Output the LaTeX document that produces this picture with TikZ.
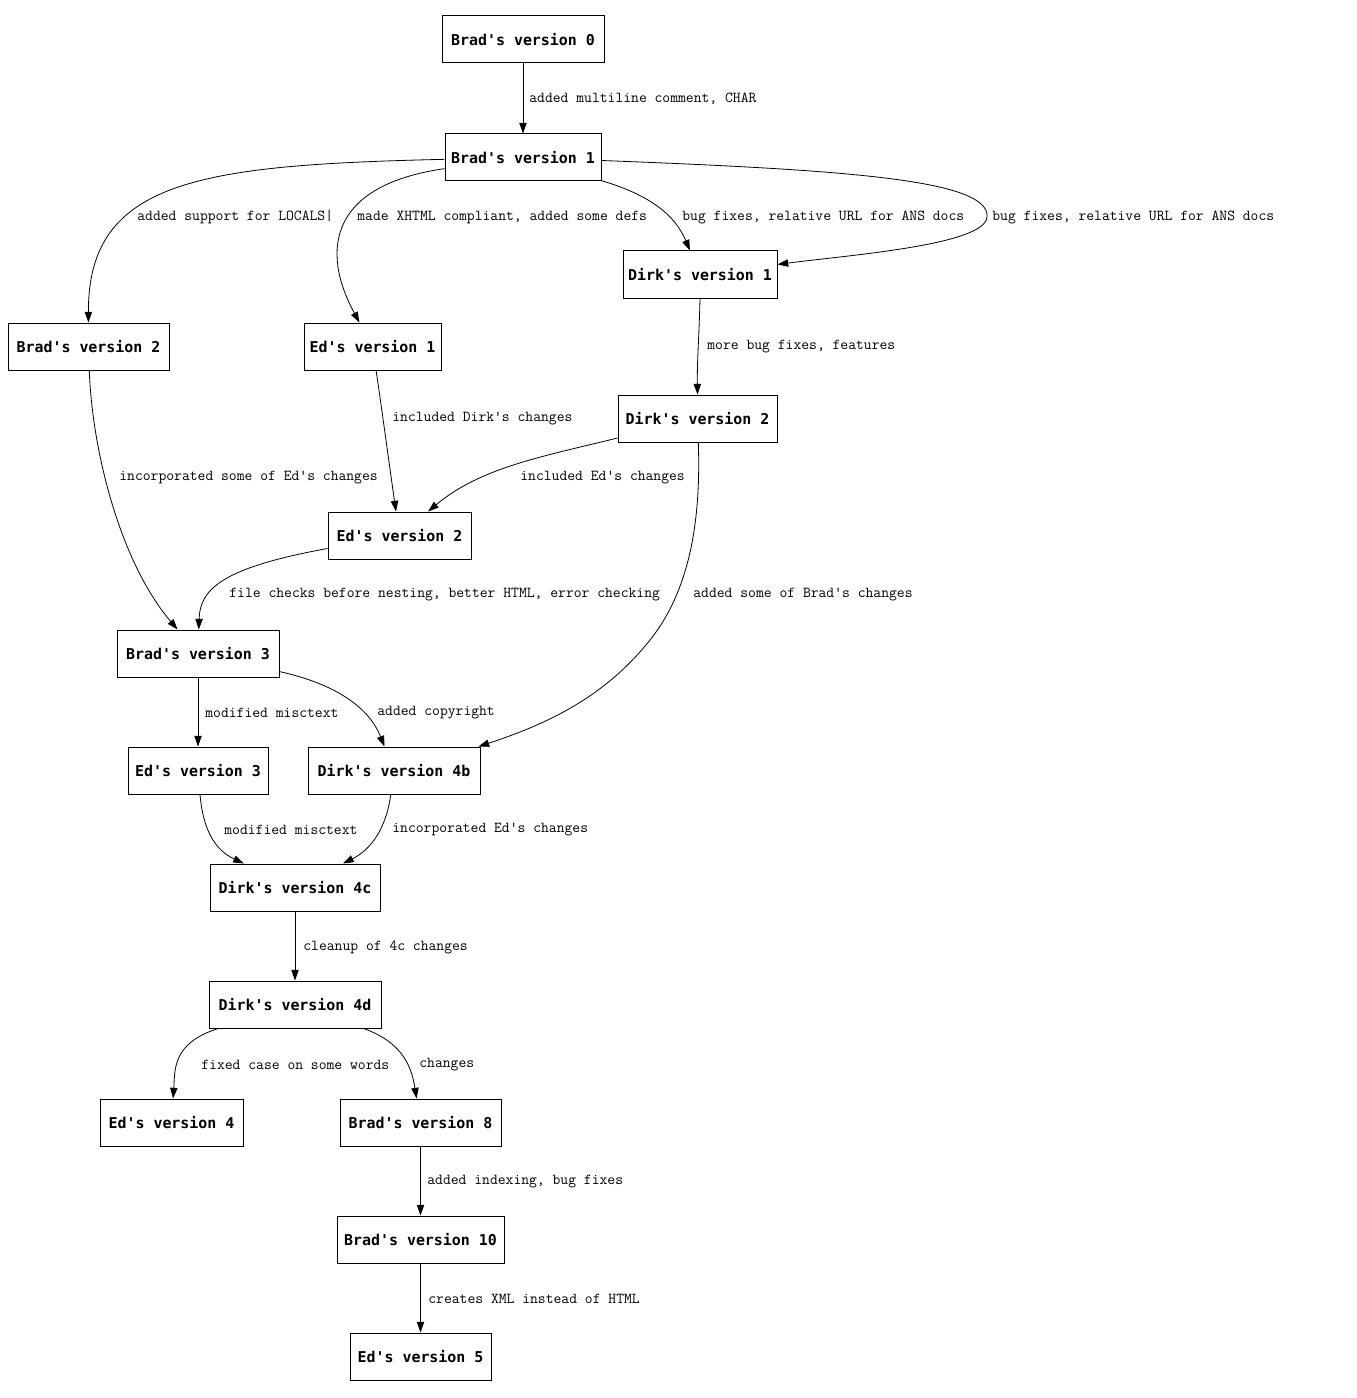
\documentclass[tikz,border=0pt]{standalone}
\usepackage{fontspec}
\newfontfamily\nodefont{DejaVu Sans Mono}
\usetikzlibrary{arrows.meta,calc}
\begin{document}
\begin{tikzpicture}[x=0.75pt,y=-0.75pt,
  box/.style={draw,line width=0.75pt,minimum height=35.25pt,inner sep=0pt,
    font=\nodefont\bfseries\fontsize{11.2pt}{13pt}\selectfont},
  edge/.style={line width=0.6pt,-{Triangle[length=8pt,width=5.5pt]}},
  lbl/.style={anchor=west,inner sep=0pt,font=\ttfamily\fontsize{11.4pt}{13pt}\selectfont}]
\useasboundingbox (0,0) rectangle (1356,1398);
\node[box,minimum width=121.5pt]  (b0)  at (523,39.5)    {Brad's version 0};
\node[box,minimum width=117pt]    (b1)  at (523,157.5)   {Brad's version 1};
\node[box,minimum width=115.5pt]  (d1)  at (700,274.5)   {Dirk's version 1};
\node[box,minimum width=120.75pt] (b2)  at (88.5,346.5)  {Brad's version 2};
\node[box,minimum width=102.75pt] (e1)  at (372.5,346.5) {Ed's version 1};
\node[box,minimum width=119.25pt] (d2)  at (697.5,418.5) {Dirk's version 2};
\node[box,minimum width=107.25pt] (e2)  at (399.5,535.5) {Ed's version 2};
\node[box,minimum width=121.5pt]  (b3)  at (198,653.5)   {Brad's version 3};
\node[box,minimum width=105pt]    (e3)  at (198,770.5)   {Ed's version 3};
\node[box,minimum width=129pt]    (d4b) at (394,770.5)   {Dirk's version 4b};
\node[box,minimum width=127.5pt]  (d4c) at (295,887.5)   {Dirk's version 4c};
\node[box,minimum width=129pt]    (d4d) at (295,1004.5)  {Dirk's version 4d};
\node[box,minimum width=107.25pt] (e4)  at (171.5,1122.5){Ed's version 4};
\node[box,minimum width=120.75pt] (b8)  at (420.5,1122.5){Brad's version 8};
\node[box,minimum width=125.25pt] (b10) at (420.5,1239.5){Brad's version 10};
\node[box,minimum width=105.75pt] (e5)  at (420.5,1356.5){Ed's version 5};

\draw[edge] (b0) -- (b1) node[lbl] at (529,99) {added multiline comment, CHAR};
\draw[edge] (b1) .. controls (200,165) and (88,180) .. (b2)
  node[lbl] at (137,217) {added support for LOCALS|};
\draw[edge] (b1) .. controls (330,185) and (320,250) .. (e1)
  node[lbl] at (357,217) {made XHTML compliant, added some defs};
\draw[edge] (b1) .. controls (650,195) and (675,215) .. (d1)
  node[lbl] at (682,217) {bug fixes, relative URL for ANS docs};
\draw[edge] (b1) .. controls (850,170) and (990,180) .. (987,217)
  .. controls (985,245) and (850,255) .. (d1)
  node[lbl] at (992,217) {bug fixes, relative URL for ANS docs};
\draw[edge] (b2) .. controls (92,450) and (120,562) .. (b3)
  node[lbl] at (119,478) {incorporated some of Ed's changes};
\draw[edge] (e1) .. controls (382,410) and (390,470) .. (e2)
  node[lbl] at (392,419) {included Dirk's changes};
\draw[edge] (d1.south) .. controls (699,340) and (697,360) .. (d2.north)
  node[lbl] at (707,347) {more bug fixes, features};
\draw[edge] (d2) .. controls (540,457) and (480,468) .. (e2)
  node[lbl] at (520,478) {included Ed's changes};
\draw[edge] (e2) .. controls (220,568) and (200,590) .. (b3)
  node[lbl] at (229,595) {file checks before nesting, better HTML, error checking};
\draw[edge] (d2) .. controls (701,520) and (690,590) .. (650,640)
  .. controls (610,690) and (560,720) .. ($(d4b.north east)+(-2,0)$)
  node[lbl] at (693,595) {added some of Brad's changes};
\draw[edge] (b3) -- (e3) node[lbl] at (205,713) {modified misctext};
\draw[edge] (b3) .. controls (340,685) and (370,710) .. (d4b)
  node[lbl] at (377,713) {added copyright};
\draw[edge] (e3) .. controls (203,830) and (215,850) .. (d4c)
  node[lbl] at (224,830) {modified misctext};
\draw[edge] (d4b) .. controls (386,830) and (370,850) .. (d4c)
  node[lbl] at (392,830) {incorporated Ed's changes};
\draw[edge] (d4c) -- (d4d) node[lbl] at (303,947) {cleanup of 4c changes};
\draw[edge] (d4d) .. controls (172,1043) and (175,1070) .. (e4)
  node[lbl] at (201,1065) {fixed case on some words};
\draw[edge] (d4d) .. controls (405,1043) and (412,1070) .. (b8)
  node[lbl] at (419,1065) {changes};
\draw[edge] (b8) -- (b10) node[lbl] at (427,1182) {added indexing, bug fixes};
\draw[edge] (b10) -- (e5) node[lbl] at (428,1299) {creates XML instead of HTML};
\end{tikzpicture}
\end{document}
